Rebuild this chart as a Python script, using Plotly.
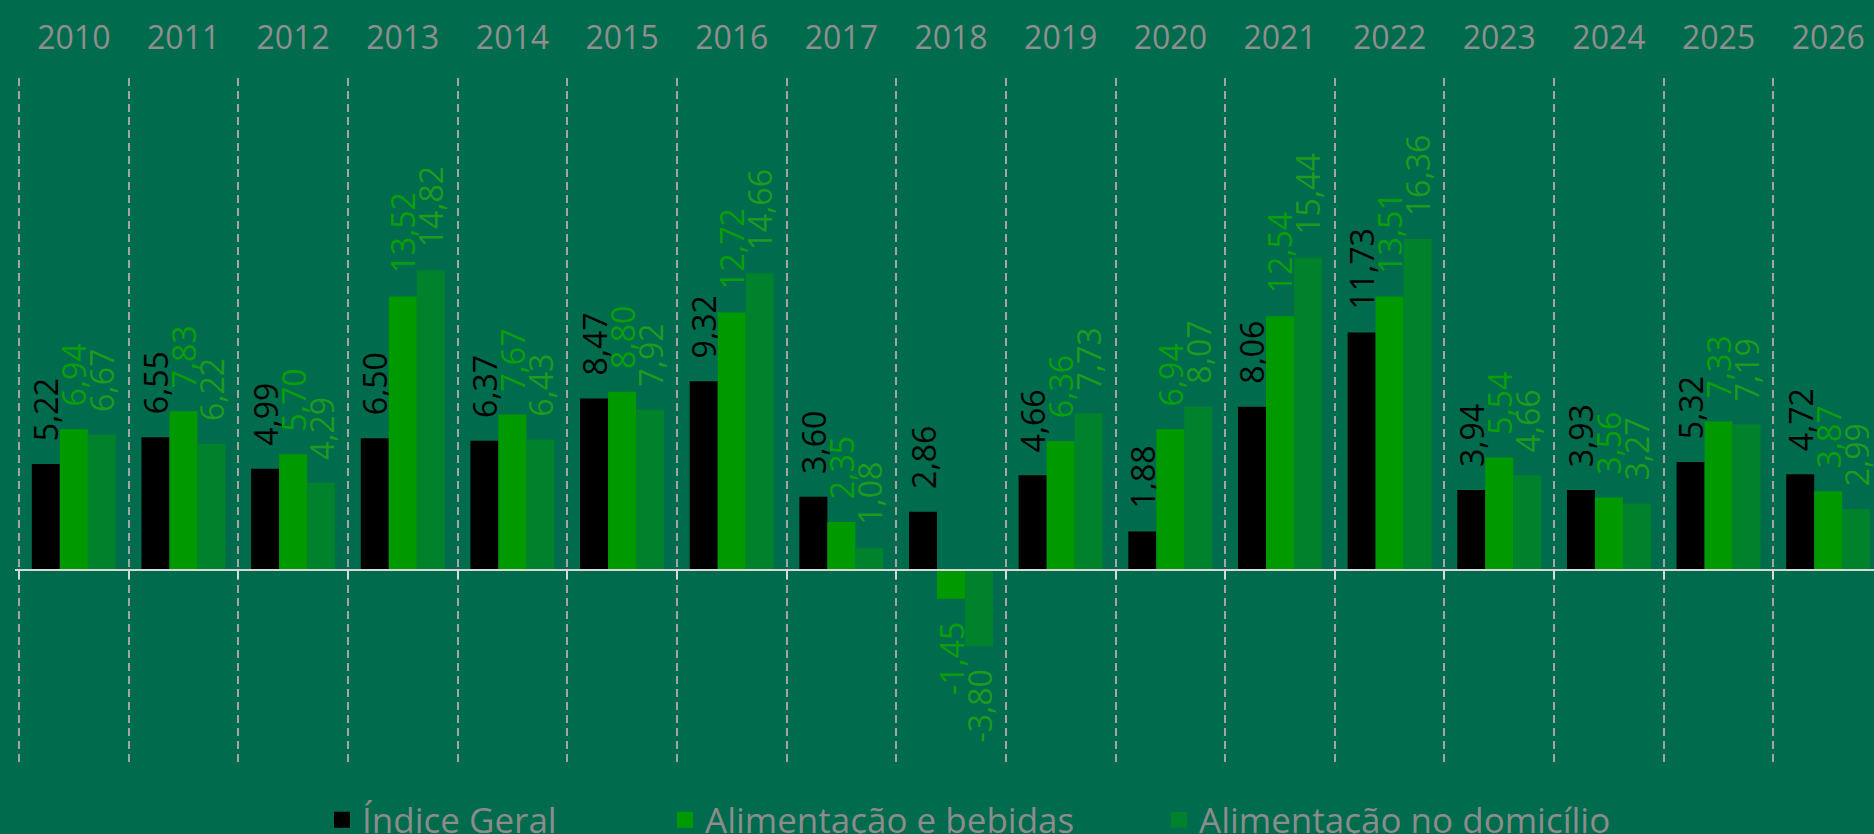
import plotly.graph_objects as go

years = [str(y) for y in range(2010, 2027)]
indice_geral = [5.22, 6.55, 4.99, 6.50, 6.37, 8.47, 9.32, 3.60, 2.86, 4.66, 1.88, 8.06, 11.73, 3.94, 3.93, 5.32, 4.72]
alim_bebidas = [6.94, 7.83, 5.70, 13.52, 7.67, 8.80, 12.72, 2.35, -1.45, 6.36, 6.94, 12.54, 13.51, 5.54, 3.56, 7.33, 3.87]
alim_domicilio = [6.67, 6.22, 4.29, 14.82, 6.43, 7.92, 14.66, 1.08, -3.80, 7.73, 8.07, 15.44, 16.36, 4.66, 3.27, 7.19, 2.99]
series_names = ["Índice Geral", "Alimentação e bebidas", "Alimentação no domicílio"]

BG = "#006B4D"
bar_colors = ["#000000", "#009A00", "#00812B"]
label_colors = ["#000000", "#0A9F0A", "#1E9A1E"]
FONT = "Open Sans"
PAD = "\u00a0\u00a0\u200a"


def fmt(v):
    s = f"{v:.2f}".replace(".", ",")
    return PAD + s if v >= 0 else s + PAD


W, H = 1874, 834
ml, mr, mt, mb = 15, 0, 78, 69
cat_px = 109.65
first_boundary_px = 19
plot_w = W - ml - mr
x_start = -0.5 - (first_boundary_px - ml) / cat_px
x_range = [x_start, x_start + plot_w / cat_px]
px_per_unit = 20.2
zero_y = 569.5
y_max = (zero_y - mt) / px_per_unit
y_min = -((H - mb) - zero_y) / px_per_unit
zero_frac = (0 - y_min) / (y_max - y_min)

fig = go.Figure()
for name, vals, col, lcol in zip(series_names, [indice_geral, alim_bebidas, alim_domicilio], bar_colors, label_colors):
    fig.add_trace(go.Bar(
        x=years, y=vals, name=name, marker=dict(color=col, line=dict(width=0)),
        text=[fmt(v) for v in vals], textposition="outside", textangle=-90,
        textfont=dict(family=FONT, size=32, color=lcol),
        constraintext="none", cliponaxis=False, showlegend=False,
    ))

legend_ids = ["legend", "legend2", "legend3"]
for name, col, lid in zip(series_names, bar_colors, legend_ids):
    fig.add_trace(go.Scatter(
        x=[None], y=[None], mode="markers", name=name,
        marker=dict(symbol="square", size=20, color=col),
        legend=lid, showlegend=True, hoverinfo="skip",
    ))

# invisible helper trace for the zero-line axis with boundary ticks
fig.add_trace(go.Scatter(x=years, y=[None] * len(years), xaxis="x2", mode="markers",
                         showlegend=False, hoverinfo="skip"))

legend_common = dict(orientation="h", xref="container", yref="container", xanchor="left",
                     yanchor="middle", y=1 - 820 / H, bgcolor="rgba(0,0,0,0)",
                     font=dict(family=FONT, size=35, color="#8C8C8C"), itemsizing="trace")
legend_left_px = [322, 665, 1159]

fig.update_layout(
    width=W, height=H,
    margin=dict(l=ml, r=mr, t=mt, b=mb, pad=0),
    paper_bgcolor=BG, plot_bgcolor=BG,
    barmode="group", bargap=0.234, bargroupgap=0,
    font=dict(family=FONT, color="#8C8C8C"),
    xaxis=dict(
        type="category", categoryorder="array", categoryarray=years, range=x_range,
        side="top", tickson="boundaries", ticks="", showline=False,
        showgrid=True, gridcolor="#A5A5A5", gridwidth=2, griddash="8px,5px",
        tickfont=dict(family=FONT, size=32, color="#8F8F8F"), ticklabelstandoff=22,
        zeroline=False,
    ),
    xaxis2=dict(
        type="category", categoryorder="array", categoryarray=years, range=x_range,
        overlaying="x", anchor="free", position=zero_frac, side="bottom",
        tickson="boundaries", ticks="outside", ticklen=8, tickwidth=2, tickcolor="#D9D9D9",
        showticklabels=False, showline=True, linecolor="#D9D9D9", linewidth=2,
        showgrid=False, zeroline=False,
    ),
    yaxis=dict(range=[y_min, y_max], showgrid=False, showticklabels=False, ticks="",
               zeroline=False, showline=False),
    legend=dict(x=legend_left_px[0] / W, **legend_common),
    legend2=dict(x=legend_left_px[1] / W, **legend_common),
    legend3=dict(x=legend_left_px[2] / W, **legend_common),
)

fig.write_html(
    "out.html",
    config=dict(displayModeBar=False),
    post_script="document.body.style.margin='0';document.body.style.overflow='hidden';",
)
